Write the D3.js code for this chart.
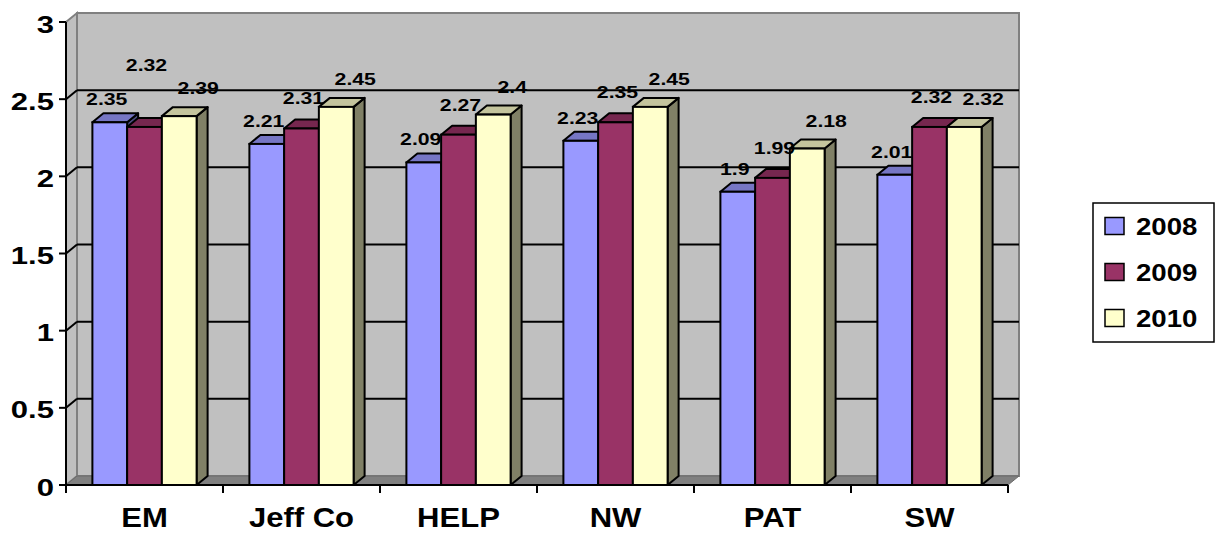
<!DOCTYPE html>
<html>
<head>
<meta charset="utf-8">
<script src="https://cdn.jsdelivr.net/npm/d3@7"></script>
<style>
  html, body { margin: 0; padding: 0; background: #ffffff; }
  svg { display: block; }
  text { font-family: "Liberation Sans", Arial, sans-serif; font-weight: bold; fill: #000; }
</style>
</head>
<body>
<svg id="chart" width="1217" height="534"></svg>
<script>
// Survey averages by site and year
const categories = ["EM", "Jeff Co", "HELP", "NW", "PAT", "SW"];
const years = ["2008", "2009", "2010"];
const values2008 = [2.35, 2.21, 2.09, 2.23, 1.9, 2.01];
const values2009 = [2.32, 2.31, 2.27, 2.35, 1.99, 2.32];
const values2010 = [2.39, 2.45, 2.4, 2.45, 2.18, 2.32];
const yTicks = [0, 0.5, 1, 1.5, 2, 2.5, 3];
const yTickLabels = ["0", "0.5", "1", "1.5", "2", "2.5", "3"];

const seriesValues = [values2008, values2009, values2010];
const frontColors = ["#9999FF", "#993366", "#FFFFCC"];

const svg = d3.select("#chart");

// Plot frame (front plane) and depth offset of the 3D box
const pLeft = 66, pRight = 1008, pTop = 22, pBottom = 485;
const dx = 11, dy = -9;

const y = d3.scaleLinear().domain([0, 3]).range([pBottom, pTop]);
const x0 = d3.scaleBand().domain(categories).range([pLeft, pRight]).paddingInner(0).paddingOuter(0);
const x1 = d3.scaleBand().domain(years).range([0, x0.bandwidth()]).paddingInner(0).paddingOuter(0.76);

const shade = (c, k) => {
  const col = d3.rgb(c);
  return d3.rgb(col.r * k, col.g * k, col.b * k).formatHex();
};
const poly = pts => pts.map(p => p.join(",")).join(" ");

// Walls and floor
const walls = svg.append("g");
walls.append("polygon")
  .attr("points", poly([[pLeft + dx, pTop + dy], [pRight + dx, pTop + dy], [pRight + dx, pBottom + dy], [pLeft + dx, pBottom + dy]]))
  .attr("fill", "#C0C0C0").attr("stroke", "#808080").attr("stroke-width", 2);
walls.append("polygon")
  .attr("points", poly([[pLeft, pTop], [pLeft + dx, pTop + dy], [pLeft + dx, pBottom + dy], [pLeft, pBottom]]))
  .attr("fill", "#C0C0C0").attr("stroke", "#808080").attr("stroke-width", 2);
walls.append("polygon")
  .attr("points", poly([[pLeft, pBottom], [pLeft + dx, pBottom + dy], [pRight + dx, pBottom + dy], [pRight, pBottom]]))
  .attr("fill", "#808080").attr("stroke", "#6a6a6a").attr("stroke-width", 1);

// Gridlines on the back and side walls
const grid = svg.append("g");
const gridVals = yTicks.filter(v => v > 0 && v < 3);
grid.selectAll("line.back").data(gridVals).join("line")
  .attr("x1", pLeft + dx).attr("x2", pRight + dx)
  .attr("y1", d => y(d) + dy).attr("y2", d => y(d) + dy)
  .attr("stroke", "#000").attr("stroke-width", 2);
grid.selectAll("line.side").data(gridVals).join("line")
  .attr("x1", pLeft).attr("x2", pLeft + dx)
  .attr("y1", d => y(d)).attr("y2", d => y(d) + dy)
  .attr("stroke", "#000").attr("stroke-width", 2);

// Bars as 3D boxes: side, top, front
const bars = svg.append("g");
categories.forEach((cat, ci) => {
  years.forEach((yr, si) => {
    const v = seriesValues[si][ci];
    const bx = x0(cat) + x1(yr);
    const bw = x1.bandwidth();
    const by = y(v);
    const g = bars.append("g");
    const base = frontColors[si];
    g.append("polygon")
      .attr("points", poly([[bx + bw, by], [bx + bw + dx, by + dy], [bx + bw + dx, pBottom + dy], [bx + bw, pBottom]]))
      .attr("fill", shade(base, 0.5)).attr("stroke", "#000").attr("stroke-width", 2).attr("stroke-linejoin", "round");
    g.append("polygon")
      .attr("points", poly([[bx, by], [bx + dx, by + dy], [bx + bw + dx, by + dy], [bx + bw, by]]))
      .attr("fill", shade(base, 0.77)).attr("stroke", "#000").attr("stroke-width", 2).attr("stroke-linejoin", "round");
    g.append("rect")
      .attr("x", bx).attr("y", by).attr("width", bw).attr("height", pBottom - by)
      .attr("fill", base).attr("stroke", "#000").attr("stroke-width", 2);
  });
});

// Axes
const axes = svg.append("g");
axes.append("line").attr("x1", pLeft).attr("x2", pLeft).attr("y1", pTop).attr("y2", pBottom)
  .attr("stroke", "#000").attr("stroke-width", 2);
axes.append("line").attr("x1", pLeft).attr("x2", pRight).attr("y1", pBottom).attr("y2", pBottom)
  .attr("stroke", "#000").attr("stroke-width", 2);
axes.selectAll("line.ytick").data(yTicks).join("line")
  .attr("x1", pLeft - 7).attr("x2", pLeft).attr("y1", d => y(d)).attr("y2", d => y(d))
  .attr("stroke", "#000").attr("stroke-width", 2);
axes.selectAll("text.ylab").data(yTicks).join("text")
  .attr("text-anchor", "end")
  .attr("font-size", 23)
  .attr("transform", d => `translate(54,${y(d) + 10.5}) scale(1.35,1)`)
  .text((d, i) => yTickLabels[i]);

const boundaries = categories.map(c => x0(c)).concat([pRight]);
axes.selectAll("line.xtick").data(boundaries).join("line")
  .attr("x1", d => d).attr("x2", d => d).attr("y1", pBottom).attr("y2", pBottom + 8)
  .attr("stroke", "#000").attr("stroke-width", 2);
axes.selectAll("text.xlab").data(categories).join("text")
  .attr("text-anchor", "middle")
  .attr("font-size", 27)
  .attr("transform", d => `translate(${x0(d) + x0.bandwidth() / 2},527) scale(1.15,1)`)
  .text(d => d);

// Value labels above each bar; a label that would collide with its
// left neighbour is lifted above it
const labelShift = [-3, 2, 19];
const labelLift = [8, 15, 13];
const labelSize = 17, labelStretch = 1.25;
const labels = svg.append("g");
categories.forEach((cat, ci) => {
  let prev = null;
  years.forEach((yr, si) => {
    const v = seriesValues[si][ci];
    const txt = String(v);
    const cx = x0(cat) + x1(yr) + x1.bandwidth() / 2 + labelShift[si];
    let ty = y(v) + dy - labelLift[si];
    const halfW = txt.length * 0.5 * labelSize * labelStretch / 2;
    const h = labelSize * 0.75;
    if (prev && cx - halfW < prev.right && ty > prev.top && ty - h < prev.base) {
      ty = prev.top - 22;
    }
    prev = { right: cx + halfW, top: ty - h, base: ty };
    labels.append("text")
      .attr("text-anchor", "middle")
      .attr("font-size", labelSize)
      .attr("transform", `translate(${cx},${ty}) scale(${labelStretch},1)`)
      .text(txt);
  });
});

// Legend
const legend = svg.append("g");
legend.append("rect").attr("x", 1093).attr("y", 203).attr("width", 121).attr("height", 139)
  .attr("fill", "#fff").attr("stroke", "#000").attr("stroke-width", 1.5);
years.forEach((yr, si) => {
  const cy = 226 + si * 46;
  legend.append("rect").attr("x", 1105).attr("y", cy - 8.5).attr("width", 19).attr("height", 17)
    .attr("fill", frontColors[si]).attr("stroke", "#000").attr("stroke-width", 1.5);
  legend.append("text")
    .attr("font-size", 23)
    .attr("transform", `translate(1136,${cy + 8.5}) scale(1.2,1)`)
    .text(yr);
});
</script>
</body>
</html>
